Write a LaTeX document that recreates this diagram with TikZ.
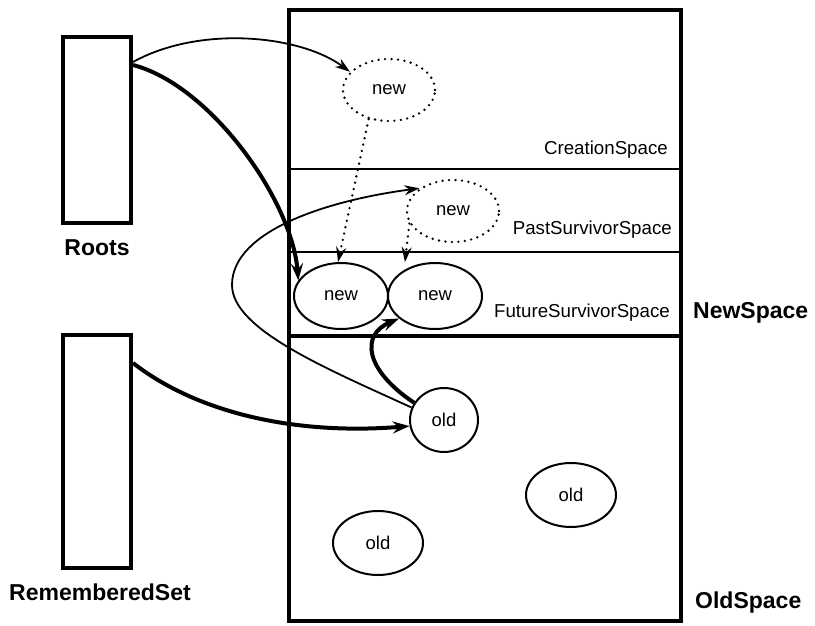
\documentclass[tikz,border=0pt]{standalone}
\usepackage{fontspec}
\setmainfont{Liberation Sans}
\usetikzlibrary{arrows.meta,shapes.geometric}

\begin{document}
\begin{tikzpicture}[x=1pt,y=-1pt,
  box/.style={draw,line width=4pt,inner sep=0pt},
  obj/.style={ellipse,draw,line width=2pt,inner sep=0pt,
    font=\fontsize{18.5}{20}\selectfont},
  ghost/.style={obj,dash pattern=on 0pt off 6.5pt,line cap=round,line width=2.6pt},
  area/.style={font=\fontsize{18.7}{20}\selectfont,inner sep=0pt},
  title/.style={font=\bfseries\fontsize{23}{24}\selectfont,inner sep=0pt},
  ref/.style={line width=1.8pt,-{Stealth[length=15pt,width=10pt,inset=5pt]}},
  strong/.style={line width=4pt,-{Stealth[length=17pt,width=12pt,inset=6pt]}},
  moved/.style={line width=2.6pt,dash pattern=on 0pt off 6.5pt,line cap=round,
    -{Stealth[length=15pt,width=10pt,inset=5pt,line cap=butt]}}
]
\useasboundingbox (0,0) rectangle (815,626);

% root tables
\node[box,minimum width=68pt,minimum height=186pt] (roots) at (97,130) {};
\node[title] (rootslbl) at (97,248) {Roots};
\node[box,minimum width=68pt,minimum height=233pt] (rset) at (97,451.5) {};
\node[title] (rsetlbl) at (100,592) {RememberedSet};

% heap with its spaces
\node[box,minimum width=392pt,minimum height=611pt] (heap) at (485,315.5) {};
\draw[line width=2.5pt] (heap.west |- 0,169) -- (heap.east |- 0,169);
\draw[line width=2.5pt] (heap.west |- 0,252) -- (heap.east |- 0,252);
\draw[line width=4pt] (heap.west |- 0,336) -- (heap.east |- 0,336);

\node[area,anchor=east] (cs) at (668,150) {CreationSpace};
\node[area,anchor=east] (pss) at (672,230) {PastSurvivorSpace};
\node[area,anchor=east] (fss) at (670,313) {FutureSurvivorSpace};
\node[title,anchor=west] (ns) at (693,313) {NewSpace};
\node[title,anchor=west] (os) at (695,603) {OldSpace};

% objects
\node[ghost,minimum width=92pt,minimum height=62pt] (tnew) at (389,90) {new};
\node[ghost,minimum width=92pt,minimum height=62pt] (pnew) at (453,211) {new};
\node[obj,minimum width=94pt,minimum height=66pt] (new1) at (341,296) {new};
\node[obj,minimum width=94pt,minimum height=66pt] (new2) at (435,296) {new};
\node[obj,minimum width=68pt,minimum height=64pt] (old1) at (444,420) {old};
\node[obj,minimum width=90pt,minimum height=64pt] (old2) at (571,495) {old};
\node[obj,minimum width=90pt,minimum height=64pt] (old3) at (378,543) {old};

% references
\draw[ref] ([yshift=-27pt]roots.north east) .. controls (200,25) and (300,35) .. (tnew.155);
\draw[strong] ([yshift=-30pt]roots.north east) .. controls (210,85) and (292,200) .. (new1.160);
\draw[ref] (old1.159) .. controls (330,370) and (232,330) .. (232,285)
  .. controls (232,230) and (330,200) .. (pnew.146);
\draw[strong] (old1.150) .. controls (365,370) and (360,335) .. (new2.212);
\draw[strong] ([yshift=-30pt]rset.north east) .. controls (200,415) and (300,435) .. (old1.190);

% copies made by the scavenge
\draw[moved] (tnew.235) -- (new1.95);
\draw[moved,shorten >=8pt] (pnew.196) -- (new2.140);
\end{tikzpicture}
\end{document}
